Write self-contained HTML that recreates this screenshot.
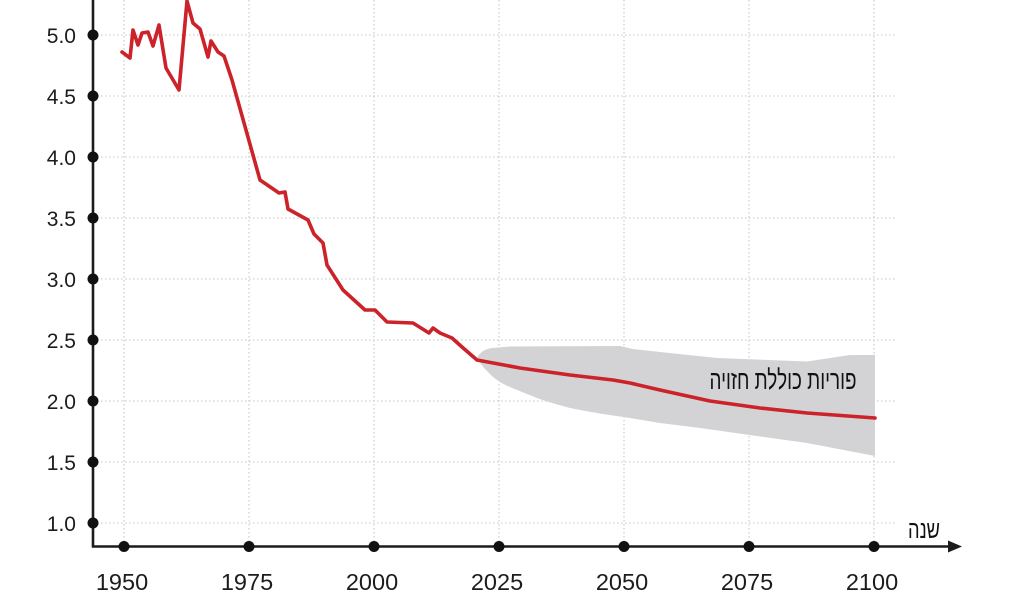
<!DOCTYPE html>
<html><head><meta charset="utf-8"><style>
html,body{margin:0;padding:0;background:#fff;}
svg{display:block;}
text{font-family:"Liberation Sans","DejaVu Sans",sans-serif;fill:#1c1c1c;}
</style></head><body>
<svg width="1024" height="596" viewBox="0 0 1024 596" xmlns="http://www.w3.org/2000/svg">
<g stroke="#cfcfcf" stroke-width="1.3" stroke-dasharray="1.5 2.5" fill="none">
<line x1="124" y1="0" x2="124" y2="546"/>
<line x1="249" y1="0" x2="249" y2="546"/>
<line x1="374" y1="0" x2="374" y2="546"/>
<line x1="499" y1="0" x2="499" y2="546"/>
<line x1="624" y1="0" x2="624" y2="546"/>
<line x1="749" y1="0" x2="749" y2="546"/>
<line x1="874" y1="0" x2="874" y2="546"/>
<line x1="93" y1="35" x2="895" y2="35"/>
<line x1="93" y1="96" x2="895" y2="96"/>
<line x1="93" y1="157" x2="895" y2="157"/>
<line x1="93" y1="218" x2="895" y2="218"/>
<line x1="93" y1="279" x2="895" y2="279"/>
<line x1="93" y1="340" x2="895" y2="340"/>
<line x1="93" y1="401" x2="895" y2="401"/>
<line x1="93" y1="462" x2="895" y2="462"/>
<line x1="93" y1="523" x2="895" y2="523"/>
</g>
<path d="M477,358 C480,352 485,349 492,348 L510,346.5 L620,346 L633,349 L660,352 L717,358 L807,361.5 L850,355 L875,355 L875,456 L807,443 L700,428 L660,423 L630,418 L603,414 C585,411 575,409 570,408 C555,404 545,401 537,398 C520,391 505,386 497,380 C488,373 481,365 477,358 Z" fill="#d3d3d5"/>
<polyline fill="none" stroke="#cc2229" stroke-width="3.6" stroke-linejoin="round" stroke-linecap="round" points="122,52 130,58 133,30 138,45 142,33 148,32 153,46 159,25 166,68 179,90 187,1 193,23 200,29 208,57 211,41 218,52 224,56 232,80 260,180 279,193 285,192 288,209 308,220 314,234 323,243 327,265 343,290 365,310 375,310 387,322 413,323 429,333 433,328 440,333 452,338 462,347 477,360 520,368 570,375 613,380 630,383 660,390 710,401 760,408 807,413 875,418"/>
<line x1="93" y1="0" x2="93" y2="547.5" stroke="#1c1c1c" stroke-width="2.6"/>
<line x1="92" y1="546.5" x2="952" y2="546.5" stroke="#1c1c1c" stroke-width="2.6"/>
<polygon points="962,546.5 948,540.5 948,552.5" fill="#1c1c1c"/>
<g fill="#111">
<circle cx="93" cy="35" r="5.5"/><circle cx="93" cy="96" r="5.5"/><circle cx="93" cy="157" r="5.5"/>
<circle cx="93" cy="218" r="5.5"/><circle cx="93" cy="279" r="5.5"/><circle cx="93" cy="340" r="5.5"/>
<circle cx="93" cy="401" r="5.5"/><circle cx="93" cy="462" r="5.5"/><circle cx="93" cy="523" r="5.5"/>
<circle cx="124" cy="546.5" r="5.5"/><circle cx="249" cy="546.5" r="5.5"/><circle cx="374" cy="546.5" r="5.5"/>
<circle cx="499" cy="546.5" r="5.5"/><circle cx="624" cy="546.5" r="5.5"/><circle cx="749" cy="546.5" r="5.5"/>
<circle cx="874" cy="546.5" r="5.5"/>
</g>
<g font-size="21" text-anchor="end">
<text x="76" y="43">5.0</text>
<text x="76" y="104">4.5</text>
<text x="76" y="165">4.0</text>
<text x="76" y="226">3.5</text>
<text x="76" y="287">3.0</text>
<text x="76" y="348">2.5</text>
<text x="76" y="409">2.0</text>
<text x="76" y="470">1.5</text>
<text x="76" y="531">1.0</text>
</g>
<g font-size="23.5" text-anchor="middle">
<text x="122" y="590">1950</text>
<text x="247" y="590">1975</text>
<text x="372" y="590">2000</text>
<text x="497" y="590">2025</text>
<text x="622" y="590">2050</text>
<text x="747" y="590">2075</text>
<text x="872" y="590">2100</text>
</g>
<text x="783" y="389" font-size="27" text-anchor="middle" textLength="147" lengthAdjust="spacingAndGlyphs" style="fill:#111">פוריות כוללת חזויה</text>
<text x="924" y="538" font-size="25" text-anchor="middle" textLength="32" lengthAdjust="spacingAndGlyphs" style="fill:#111">שנה</text>
</svg>
</body></html>
